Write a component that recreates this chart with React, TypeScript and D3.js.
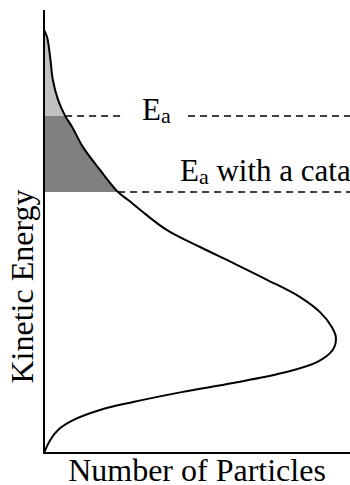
import React from "react";
import * as d3 from "d3";

// Distribution of particle kinetic energies (arbitrary units)
// Each point: number of particles (horizontal) at a kinetic energy (vertical)
const particleCounts = [
  0, 0.2, 0.46, 0.95, 1.83, 2.91, 4.54, 6.18, 7.81, 8.92, 9.44, 9.54, 9.41, 9.02,
  8.37, 7.29, 6.18, 5.1, 4.02, 3.14, 2.75, 2.42, 1.83, 1.27, 0.92, 0.69, 0.46, 0.29,
  0.2, 0.1, 0,
];
const kineticEnergies = [
  0, 0.29, 0.52, 0.74, 0.97, 1.15, 1.38, 1.58, 1.81, 2.05, 2.33, 2.6, 2.84, 3.18,
  3.52, 3.91, 4.29, 4.65, 5.03, 5.49, 5.71, 5.89, 6.39, 6.91, 7.36, 7.61, 7.97, 8.42,
  8.94, 9.39, 9.55,
];

// Activation energies
const activationEnergy = 7.61;
const catalysedActivationEnergy = 5.89;

const xLabel = "Number of Particles";
const yLabel = "Kinetic Energy";
const eaLabelMain = "E";
const eaLabelSub = "a";
const catalystSuffix = " with a catalyst";

const WIDTH = 350;
const HEIGHT = 485;
const FONT = "Liberation Serif, DejaVu Serif, serif";

export default function App() {
  const x = d3.scaleLinear().domain([0, 10]).range([44, 350]);
  const y = d3.scaleLinear().domain([0, 10]).range([453, 10]);

  const points: [number, number][] = particleCounts.map((c, i) => [c, kineticEnergies[i]]);

  const line = d3
    .line<[number, number]>()
    .x((d) => x(d[0]))
    .y((d) => y(d[1]))
    .curve(d3.curveCatmullRom.alpha(0.5));

  const curvePath = line(points) || "";
  // Region between the energy axis and the curve
  const regionPath = curvePath + "Z";

  // Particle count on the high-energy branch at a given energy
  const peakIndex = d3.maxIndex(particleCounts);
  const upper = points.slice(peakIndex);
  const countAt = (e: number) => {
    for (let i = 0; i < upper.length - 1; i++) {
      const [c0, e0] = upper[i];
      const [c1, e1] = upper[i + 1];
      if (e >= e0 && e <= e1) {
        const t = (e - e0) / (e1 - e0);
        return c0 + t * (c1 - c0);
      }
    }
    return 0;
  };

  const eaY = y(activationEnergy);
  const catY = y(catalysedActivationEnergy);
  const topY = y(10);

  const eaStartX = x(countAt(activationEnergy));
  const catStartX = x(countAt(catalysedActivationEnergy));

  const eaLabelX = 142;
  const eaGapLeft = 122;
  const eaGapRight = 188;

  return (
    <svg
      width={WIDTH}
      height={HEIGHT}
      style={{ position: "absolute", left: 0, top: 0, background: "#fff" }}
    >
      <defs>
        <clipPath id="above-ea">
          <rect x={x(0)} y={topY} width={x(10) - x(0)} height={eaY - topY} />
        </clipPath>
        <clipPath id="between-ea">
          <rect x={x(0)} y={eaY} width={x(10) - x(0)} height={catY - eaY} />
        </clipPath>
      </defs>

      {/* shaded regions */}
      <path d={regionPath} fill="#c0c0c0" clipPath="url(#above-ea)" />
      <path d={regionPath} fill="#808080" clipPath="url(#between-ea)" />

      {/* activation energy lines */}
      <line x1={eaStartX} x2={eaGapLeft} y1={eaY} y2={eaY} stroke="#000" strokeWidth={1.5} strokeDasharray="7 5" />
      <line x1={eaGapRight} x2={WIDTH} y1={eaY} y2={eaY} stroke="#000" strokeWidth={1.5} strokeDasharray="7 5" />
      <line x1={catStartX} x2={WIDTH} y1={catY} y2={catY} stroke="#000" strokeWidth={1.5} strokeDasharray="7 5" />

      <text x={eaLabelX} y={eaY + 4} fontSize={31} fill="#000" fontFamily={FONT}>
        {eaLabelMain}
        <tspan fontSize={22} dy={3}>{eaLabelSub}</tspan>
      </text>
      <text x={180} y={catY - 11} fontSize={31} fill="#000" fontFamily={FONT}>
        {eaLabelMain}
        <tspan fontSize={22} dy={3}>{eaLabelSub}</tspan>
        <tspan dy={-3}>{catalystSuffix}</tspan>
      </text>

      {/* distribution curve */}
      <path d={curvePath} fill="none" stroke="#000" strokeWidth={2} />

      {/* axes */}
      <line x1={x(0)} x2={x(0)} y1={y(0)} y2={y(10)} stroke="#000" strokeWidth={2} />
      <line x1={x(0) - 1} x2={x(10)} y1={y(0)} y2={y(0)} stroke="#000" strokeWidth={2} />

      <text x={(x(0) + x(10)) / 2} y={481} fontSize={32} textAnchor="middle" fill="#000" fontFamily={FONT}>
        {xLabel}
      </text>
      <text
        transform={`translate(33, ${(y(0) + y(10)) / 2 + 55}) rotate(-90)`}
        fontSize={32}
        textAnchor="middle"
        fill="#000"
        fontFamily={FONT}
      >
        {yLabel}
      </text>
    </svg>
  );
}
